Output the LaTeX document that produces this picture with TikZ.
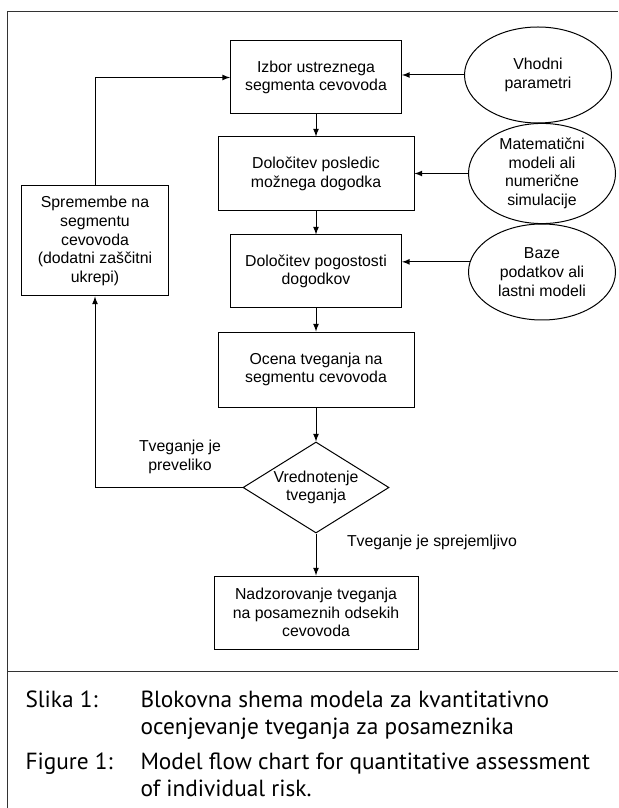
\documentclass[tikz,border=0pt]{standalone}
\usepackage{fontspec}
\setmainfont{Liberation Sans}
\newfontfamily\capfont{PT Sans}
\usetikzlibrary{positioning,arrows,shapes.geometric}

\begin{document}
\begin{tikzpicture}[
  x=0.6pt, y=-0.6pt,
  >=latex,
  line width=0.6pt,
  font=\fontsize{9.5}{11.2}\selectfont,
  stepbox/.style={draw,rectangle,align=center,inner sep=0pt},
  inputbox/.style={draw,ellipse,align=center,inner sep=0pt,minimum width=88.2pt,minimum height=57.6pt},
  capline/.style={font=\capfont\fontsize{14}{16.2}\selectfont,align=left,anchor=north west,inner sep=0pt}]
\useasboundingbox (0,0) rectangle (618,808);

% frame
\draw[color=black!80] (618,12) -- (7,12) -- (7,808);
\draw[color=black!80] (7,671) -- (618,671);

% main chain
\node[stepbox,minimum width=102.6pt,minimum height=43.8pt] (izbor) at (316,77.5) {Izbor ustreznega\\segmenta cevovoda};
\node[stepbox,minimum width=117.6pt,minimum height=44.4pt] (posledice) at (316,174) {Določitev posledic\\možnega dogodka};
\node[stepbox,minimum width=102.6pt,minimum height=43.8pt] (pogostost) at (316,271.5) {Določitev pogostosti\\dogodkov};
\node[stepbox,minimum width=117.6pt,minimum height=45pt] (ocena) at (316,369.5) {Ocena tveganja na\\segmentu cevovoda};
\node[draw,diamond,align=center,inner sep=0pt,aspect=1.6,minimum width=87.6pt,minimum height=54.6pt] (vrednotenje) at (316,487.5) {Vrednotenje\\tveganja};
\node[stepbox,minimum width=122.4pt,minimum height=43.8pt] (nadzor) at (316,612.5) {Nadzorovanje tveganja\\na posameznih odsekih\\cevovoda};
\node[stepbox,minimum width=88.2pt,minimum height=66pt] (spremembe) at (95,241) {Spremembe na\\segmentu\\cevovoda\\(dodatni zaščitni\\ukrepi)};

% inputs
\node[inputbox] (vhodni) at (538,75) {Vhodni\\parametri};
\node[inputbox] (modeli) at (542,173.5) {Matematični\\modeli ali\\numerične\\simulacije};
\node[inputbox] (baze) at (542,272) {Baze\\podatkov ali\\lastni modeli};

% decision labels
\node[align=center] (preveliko) at (180,457) {Tveganje je\\preveliko};
\node[anchor=west] (sprejemljivo) at (341,542) {Tveganje je sprejemljivo};

\draw[->] (izbor.south) -- (posledice.north);
\draw[->] (posledice.south) -- (pogostost.north);
\draw[->] (pogostost.south) -- (ocena.north);
\draw[->] (ocena.south) -- (vrednotenje.north);
\draw[->] (vrednotenje.south) -- (nadzor.north);

\draw[->] (vhodni.west) -- (vhodni.west -| izbor.east);
\draw[->] (modeli.west) -- (modeli.west -| posledice.east);
\draw[->] (baze.172) -- (baze.172 -| pogostost.east);

\draw[->] (vrednotenje.west) -| (spremembe.south);
\draw[->] (spremembe.north) |- (izbor.west);

% caption
\node[capline] (slika) at (25,690) {Slika 1:};
\node[capline] (slikatext) at (140,690) {Blokovna shema modela za kvantitativno\\ocenjevanje tveganja za posameznika};
\node[capline] (figure) at (25,752) {Figure 1:};
\node[capline] (figuretext) at (140,752) {Model flow chart for quantitative assessment\\of individual risk.};
\end{tikzpicture}
\end{document}
